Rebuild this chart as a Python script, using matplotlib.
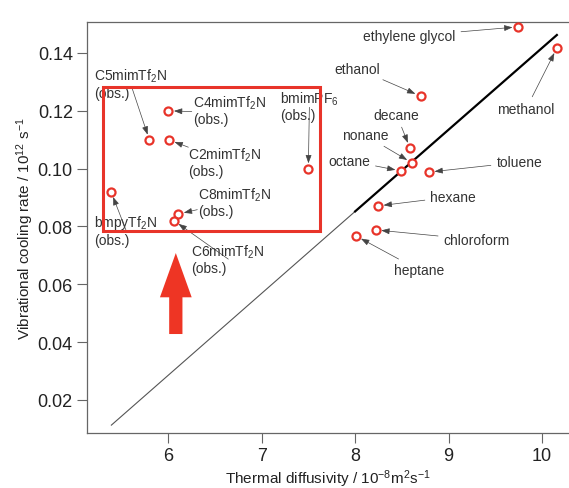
import numpy as np
import matplotlib
matplotlib.use("Agg")
import matplotlib.pyplot as plt
from matplotlib.patches import Rectangle, FancyArrow

plt.rcParams['font.family'] = ['Liberation Sans', 'DejaVu Sans']
plt.rcParams['mathtext.fontset'] = 'custom'
plt.rcParams['mathtext.rm'] = 'Liberation Sans'
plt.rcParams['mathtext.it'] = 'Liberation Sans:italic'

# molecular solvents: thermal diffusivity (1e-8 m2/s), cooling rate (1e12 1/s)
solv_names = ["ethylene glycol", "methanol", "ethanol", "decane", "nonane",
              "octane", "toluene", "hexane", "chloroform", "heptane"]
solv_x = [9.744, 10.160, 8.700, 8.587, 8.609, 8.490, 8.790, 8.245, 8.220, 8.010]
solv_y = [0.1490, 0.1417, 0.1251, 0.1071, 0.1020, 0.0992, 0.0988, 0.0871, 0.0788, 0.0767]

# ionic liquids (observed)
il_names = ["C5mimTf$_2$N", "C4mimTf$_2$N", "C2mimTf$_2$N", "bmimPF$_6$",
            "C8mimTf$_2$N", "C6mimTf$_2$N", "bmpyTf$_2$N"]
il_x = [5.797, 6.000, 6.010, 7.499, 6.107, 6.060, 5.387]
il_y = [0.1099, 0.1200, 0.1099, 0.0999, 0.0843, 0.0820, 0.0920]

# linear fit through the solvents, thin part is extrapolated
fit_x = [5.39, 8.00, 10.16]
fit_y = [0.0113, 0.0852, 0.1462]

# label placement
solv_text = [(8.580, 0.1458), (9.830, 0.1206), (8.028, 0.1345), (8.445, 0.1186),
             (8.106, 0.1116), (7.935, 0.1027), (9.758, 0.1022), (9.051, 0.0903),
             (9.302, 0.0754), (8.685, 0.0649)]
il_text = [(5.204, 0.1294), (6.261, 0.1203), (6.214, 0.1023), (7.196, 0.1217),
           (6.321, 0.0885), (6.243, 0.0688), (5.204, 0.0788)]
il_tail = [(5.615, 0.1275), (6.251, 0.1197), (6.214, 0.1074), (7.510, 0.1212),
           (6.310, 0.0858), (6.642, 0.0687), (5.555, 0.0780)]

red = "#E8342A"
txtc = "#333333"

fig = plt.figure(figsize=(5.69, 4.89), dpi=100)
ax = fig.add_axes([0.1524, 0.1125, 0.8476, 0.8411])

ax.plot(fit_x[:2], fit_y[:2], color="#555555", lw=0.8, zorder=2)
ax.plot(fit_x[1:], fit_y[1:], color="black", lw=1.6, zorder=2)

ax.plot(solv_x, solv_y, 'o', mfc='white', mec=red, ms=5.8, mew=1.6, zorder=4, ls='none')
ax.plot(il_x, il_y, 'o', mfc='white', mec=red, ms=5.8, mew=1.6, zorder=4, ls='none')

aprops = dict(arrowstyle='-|>,head_length=0.5,head_width=0.18', color='#444444',
              lw=0.5, shrinkB=4)
for name, x, y, t in zip(solv_names, solv_x, solv_y, solv_text):
    ax.annotate(name, xy=(x, y), xytext=t, ha='center', va='center',
                fontsize=10, color=txtc, arrowprops=aprops, zorder=3)

for name, x, y, t, tl in zip(il_names, il_x, il_y, il_text, il_tail):
    ax.text(t[0], t[1], name + "\n(obs.)", ha='left', va='center', fontsize=10,
            color=txtc, linespacing=1.15, zorder=3)
    ax.annotate("", xy=(x, y), xytext=tl,
                arrowprops=dict(aprops, shrinkA=0), zorder=3)

ax.add_patch(Rectangle((5.296, 0.0783), 7.62 - 5.296, 0.1281 - 0.0783,
                       fill=False, ec=red, lw=2.2, zorder=3))
ax.add_patch(FancyArrow(6.08, 0.0428, 0, 0.028, width=0.142, head_width=0.34,
                        head_length=0.0153, length_includes_head=True,
                        fc="#EE3524", ec="none", zorder=3))

ax.set_xlim(5.126, 10.29)
ax.set_ylim(0.00858, 0.1508)
ax.set_xticks([6, 7, 8, 9, 10])
ax.set_yticks([0.02, 0.04, 0.06, 0.08, 0.10, 0.12, 0.14])
ax.set_yticklabels(["0.02", "0.04", "0.06", "0.08", "0.10", "0.12", "0.14"])
ax.tick_params(direction='out', length=7, width=0.8, color='#666666',
               labelsize=13, labelcolor='#222222', pad=3)
ax.spines['right'].set_visible(False)
for s in ['left', 'top', 'bottom']:
    ax.spines[s].set_color('#666666')
    ax.spines[s].set_linewidth(0.9)

ax.set_xlabel("Thermal diffusivity / 10$^{-8}$m$^{2}$s$^{-1}$", fontsize=11, color='#222222')
ax.set_ylabel("Vibrational cooling rate / 10$^{12}$ s$^{-1}$", fontsize=11, color='#222222')
ax.xaxis.set_label_coords(0.5, -0.083)
ax.yaxis.set_label_coords(-0.105, 0.5)

fig.savefig("out.png", dpi=100)
